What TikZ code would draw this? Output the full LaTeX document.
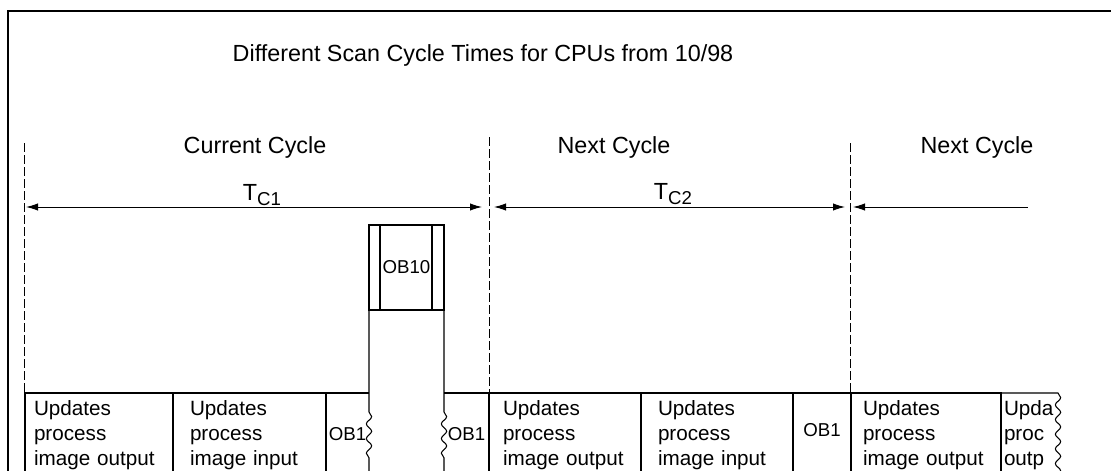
\documentclass[tikz,border=0pt]{standalone}
\usepackage{fontspec}
\setmainfont{Liberation Sans}
\usetikzlibrary{positioning,arrows.meta,decorations.pathmorphing}

\newcommand{\boxfont}{\fontsize{15.5}{18.75}\selectfont}
\newcommand{\headfont}{\fontsize{17.5}{21}\selectfont}
\newcommand{\obfont}{\fontsize{14}{17}\selectfont}
\newcommand{\tcycle}[1]{T\raisebox{-0.45ex}{\fontsize{14}{14}\selectfont C#1}}

\begin{document}
\begin{tikzpicture}[
            x=0.75pt, y=-0.75pt,
            line width=0.8pt,
            phase/.style={
                rectangle, draw=black, outer sep=0pt,
                inner ysep=0pt, align=left, font=\boxfont,
                text height=16.5pt, text depth=80pt
            },
            obtext/.style={font=\obfont, inner sep=0pt},
            headline/.style={font=\headfont, anchor=base, inner sep=0pt},
            cycleline/.style={dash pattern=on 6.75pt off 2.25pt, line width=0.7pt},
            spanarrow/.style={line width=0.7pt, >={Latex[length=9pt,width=5.5pt]}},
            wavy/.style={decoration={snake, amplitude=2pt, segment length=11pt}},
        ]

            \clip (0,0) rectangle (1111,471);

            % frame
            \draw[line width=1.3pt] (8,520) -- (8,11) -- (1130,11);

            % headings
            \node [headline] (title) at (483,61.5) {Different Scan Cycle Times for CPUs from 10/98};
            \node [headline] (cur)   at (255,153.5) {Current Cycle};
            \node [headline] (next1) at (614,153)   {Next Cycle};
            \node [headline] (next2) at (977,153)   {Next Cycle};
            \node [headline] (tc1)   at (262,200)   {\tcycle{1}};
            \node [headline] (tc2)   at (673,199)   {\tcycle{2}};

            % cycle borders
            \coordinate (cut0) at (24,207);
            \coordinate (cut1) at (489,207);
            \coordinate (cut2) at (850,207);
            \coordinate (tail) at (1028,207);
            \draw[cycleline] (24,143)  -- (24,393);
            \draw[cycleline] (489,137) -- (489,393);
            \draw[cycleline] (850,143) -- (850,393);

            \draw[spanarrow,<->,shorten <=1.5pt,shorten >=5.25pt] (cut0) -- (cut1);
            \draw[spanarrow,<->,shorten <=3.75pt,shorten >=3.75pt] (cut1) -- (cut2);
            \draw[spanarrow,<-,shorten <=2.25pt] (cut2) -- (tail);

            % phases of the cycles
            \node [phase, anchor=north west, inner xsep=6.75pt, text width=97.5pt] (outA) at (25,393) {Updates\\process\\image output};
            \node [phase, inner xsep=12.75pt, text width=89.25pt] (inA) [right=0pt of outA] {Updates\\process\\image input};

            \node [phase, anchor=north west, inner xsep=10.5pt, text width=93pt] (outB) at (489,393) {Updates\\process\\image output};
            \node [phase, inner xsep=12.75pt, text width=88.5pt] (inB) [right=0pt of outB] {Updates\\process\\image input};

            \node [phase, anchor=north west, inner xsep=9pt, text width=94.5pt] (outC) at (851,393) {Updates\\process\\image output};
            \node [phase, draw=none, inner xsep=2.25pt, text width=38.25pt] (outD) [right=0pt of outC] {Upda\\proc\\outp};

            \draw[line width=1.6pt] (outA.north east) -- (outA.south east);
            \draw[line width=1.6pt] (outB.north east) -- (outB.south east);

            % interrupt OB10
            \node [draw, outer sep=0pt, inner sep=0pt, font=\obfont,
                   minimum width=56.25pt, minimum height=63.75pt, anchor=north west] (ob10) at (369,225) {OB10};
            \draw ([xshift=8.25pt]ob10.north west) -- ([xshift=8.25pt]ob10.south west);
            \draw ([xshift=-9pt]ob10.north east) -- ([xshift=-9pt]ob10.south east);
            \draw (ob10.south west) -- ++(0,102) decorate[wavy] {-- ++(0,46)} -- ++(0,60);
            \draw (ob10.south east) -- ++(0,102) decorate[wavy] {-- ++(0,46)} -- ++(0,60);

            % OB1 slots
            \draw (inA.north east) -- (inA.north east -| ob10.west);
            \draw (outB.north west) -- (outB.north west -| ob10.east);
            \draw (inB.north east) -- (outC.north west);
            \draw (outC.north east) -- (outD.north east) decorate[wavy] {-- ++(0,110)};

            \node [obtext] (ob1a) at (347.5,434) {OB1};
            \node [obtext] (ob1b) at (466.5,434) {OB1};
            \node [obtext] (ob1c) at (822,430)   {OB1};

        \end{tikzpicture}
\end{document}
